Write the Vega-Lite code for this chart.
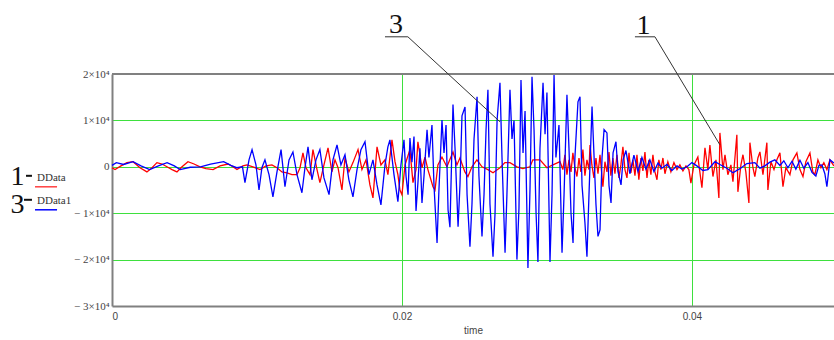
{
  "$schema": "https://vega.github.io/schema/vega-lite/v6.json",
  "autosize": {"type": "none"},
  "padding": {"left": 112, "top": 74, "right": 0, "bottom": 34},
  "width": 722,
  "height": 232,
  "background": "white",
  "config": {"view": {"stroke": null}},
  "datasets": {
    "ddata": [
      {"time":0,"value":-200},{"time":0.00021,"value":-600},{"time":0.00062,"value":200},{"time":0.00103,"value":900},{"time":0.00145,"value":1100},{"time":0.00193,"value":-200},{"time":0.00241,"value":-1100},{"time":0.00276,"value":-200},{"time":0.0031,"value":900},{"time":0.00345,"value":600},{"time":0.00379,"value":0},{"time":0.00414,"value":-600},{"time":0.00448,"value":-1100},{"time":0.00483,"value":0},{"time":0.00524,"value":1100},{"time":0.00566,"value":600},{"time":0.00607,"value":0},{"time":0.00648,"value":-400},{"time":0.00697,"value":-600},{"time":0.00745,"value":200},{"time":0.008,"value":600},{"time":0.00834,"value":0},{"time":0.00862,"value":-600},{"time":0.00903,"value":200},
      {"time":0.00931,"value":400},{"time":0.00972,"value":0},{"time":0.01021,"value":-600},{"time":0.01062,"value":200},{"time":0.01103,"value":400},{"time":0.01138,"value":-200},{"time":0.01172,"value":-1100},{"time":0.01207,"value":-1300},{"time":0.01241,"value":-1700},{"time":0.01276,"value":-1700},{"time":0.01297,"value":-200},{"time":0.01317,"value":3000},{"time":0.01338,"value":-200},{"time":0.01366,"value":-1700},{"time":0.01386,"value":3700},{"time":0.01414,"value":-600},{"time":0.01434,"value":-3400},{"time":0.01462,"value":400},{"time":0.0149,"value":4100},{"time":0.01517,"value":-1100},{"time":0.01538,"value":1500},{"time":0.01559,"value":-200},{"time":0.01586,"value":-5000},{"time":0.01607,"value":1900},{"time":0.01634,"value":-1100},{"time":0.01662,"value":900},{"time":0.01697,"value":3700},{"time":0.01724,"value":-600},{"time":0.01752,"value":1500},{"time":0.01779,"value":-3900},{"time":0.018,"value":-6700},{"time":0.01828,"value":4300},{"time":0.01855,"value":400},{"time":0.01883,"value":1500},{"time":0.01903,"value":-1700},{"time":0.01931,"value":5800},{"time":0.01952,"value":1100},{"time":0.01972,"value":-1700},{"time":0.01986,"value":-5000},{"time":0.02,"value":-6000},
      {"time":0.02021,"value":400},{"time":0.02055,"value":3700},{"time":0.02076,"value":-3400},{"time":0.02097,"value":-600},{"time":0.0211,"value":5400},{"time":0.02138,"value":-200},{"time":0.02159,"value":2100},{"time":0.02179,"value":-600},{"time":0.02214,"value":-4300},{"time":0.02228,"value":-5000},{"time":0.02248,"value":400},{"time":0.02276,"value":2100},{"time":0.0231,"value":0},{"time":0.02352,"value":3200},{"time":0.02379,"value":400},{"time":0.024,"value":1900},{"time":0.02434,"value":-1100},{"time":0.02455,"value":-2100},{"time":0.02483,"value":0},{"time":0.02517,"value":1500},{"time":0.02552,"value":0},{"time":0.02593,"value":-600},{"time":0.02628,"value":-1300},{"time":0.02676,"value":-200},{"time":0.0271,"value":900},{"time":0.02745,"value":900},{"time":0.02793,"value":0},{"time":0.02834,"value":-400},{"time":0.02883,"value":0},{"time":0.02903,"value":1500},{"time":0.02952,"value":1500},{"time":0.03,"value":-200},{"time":0.03041,"value":400},{"time":0.0309,"value":1100},
      {"time":0.0311,"value":-600},{"time":0.03124,"value":2600},{"time":0.03138,"value":-1700},{"time":0.03152,"value":1500},{"time":0.03166,"value":-1100},{"time":0.03179,"value":3000},{"time":0.03193,"value":-200},{"time":0.03207,"value":-2100},{"time":0.03221,"value":1900},{"time":0.03234,"value":-1100},{"time":0.03248,"value":3700},{"time":0.03262,"value":-1900},{"time":0.03276,"value":1500},{"time":0.0329,"value":-600},{"time":0.03297,"value":4700},{"time":0.0331,"value":400},{"time":0.03324,"value":-2400},{"time":0.03338,"value":1900},{"time":0.03352,"value":-1500},{"time":0.03366,"value":2600},{"time":0.03386,"value":-4300},{"time":0.034,"value":1100},{"time":0.03414,"value":-1100},{"time":0.03428,"value":3200},{"time":0.03441,"value":-1900},{"time":0.03455,"value":1900},{"time":0.03469,"value":-1500},{"time":0.03483,"value":2600},{"time":0.03497,"value":-2400},{"time":0.0351,"value":400},{"time":0.03524,"value":4300},{"time":0.03538,"value":-600},{"time":0.03552,"value":-2400},{"time":0.03566,"value":3000},{"time":0.03579,"value":-1300},{"time":0.03593,"value":1500},{"time":0.03607,"value":-1900},{"time":0.03621,"value":2600},{"time":0.03634,"value":-2800},{"time":0.03648,"value":1900},{"time":0.03662,"value":-900},{"time":0.03676,"value":3200},{"time":0.0369,"value":-2400},{"time":0.03703,"value":1500},{"time":0.03717,"value":-1700},{"time":0.03731,"value":2600},{"time":0.03745,"value":-1100},{"time":0.03759,"value":-2800},{"time":0.03772,"value":1500},{"time":0.03786,"value":-600},{"time":0.038,"value":1900},{"time":0.03814,"value":-1500},{"time":0.03834,"value":1100},{"time":0.03855,"value":-1100},{"time":0.03876,"value":900},{"time":0.03897,"value":-600},{"time":0.03917,"value":400},{"time":0.03938,"value":-900},{"time":0.03959,"value":200},{"time":0.03979,"value":-600},{"time":0.03993,"value":-3500},
      {"time":0.04014,"value":400},{"time":0.04041,"value":2100},{"time":0.04069,"value":-4500},{"time":0.0409,"value":4100},{"time":0.0411,"value":-600},{"time":0.04124,"value":4700},{"time":0.04145,"value":-2100},{"time":0.04166,"value":1500},{"time":0.04186,"value":-6700},{"time":0.04193,"value":7300},{"time":0.04214,"value":-600},{"time":0.04228,"value":2600},{"time":0.04248,"value":-1700},{"time":0.04269,"value":400},{"time":0.04283,"value":-3200},{"time":0.0431,"value":6900},{"time":0.04317,"value":-5400},{"time":0.04338,"value":400},{"time":0.04352,"value":2600},{"time":0.04372,"value":-1100},{"time":0.04393,"value":-7800},{"time":0.044,"value":5200},{"time":0.04421,"value":-200},{"time":0.04434,"value":-2100},{"time":0.04455,"value":1900},{"time":0.04469,"value":3200},{"time":0.0449,"value":-1700},{"time":0.04517,"value":5200},{"time":0.04524,"value":-5000},{"time":0.04545,"value":1100},{"time":0.04566,"value":-600},{"time":0.04586,"value":1500},{"time":0.04607,"value":3000},{"time":0.04628,"value":-4300},{"time":0.04648,"value":-200},{"time":0.04676,"value":-1700},{"time":0.04697,"value":1500},{"time":0.04724,"value":3000},{"time":0.04745,"value":-600},{"time":0.04766,"value":-2100},{"time":0.04786,"value":1100},{"time":0.04814,"value":3000},{"time":0.04834,"value":-1100},{"time":0.04848,"value":-1700},{"time":0.04869,"value":1500},{"time":0.0489,"value":-200},{"time":0.0491,"value":900},{"time":0.04931,"value":-600},{"time":0.04952,"value":1500},{"time":0.04979,"value":200}
    ],
    "ddata1": [
      {"time":0,"value":300},{"time":0.0003,"value":900},{"time":0.0008,"value":500},{"time":0.00145,"value":1100},{"time":0.002,"value":200},{"time":0.0026,"value":-600},{"time":0.0032,"value":200},{"time":0.0038,"value":900},{"time":0.0043,"value":200},{"time":0.0047,"value":-600},{"time":0.0054,"value":-100},{"time":0.0061,"value":0},{"time":0.0068,"value":600},{"time":0.0077,"value":1100},{"time":0.0082,"value":300},{"time":0.0086,"value":-200},{"time":0.009,"value":0},
      {"time":0.00917,"value":-3400},{"time":0.00945,"value":1500},{"time":0.00966,"value":3700},{"time":0.00993,"value":400},{"time":0.01014,"value":-5000},{"time":0.01034,"value":-200},{"time":0.01055,"value":1500},{"time":0.01083,"value":-1700},{"time":0.0111,"value":-6500},{"time":0.01138,"value":-1100},{"time":0.01166,"value":3700},{"time":0.01193,"value":-4300},{"time":0.01221,"value":1500},{"time":0.01248,"value":3200},{"time":0.01276,"value":-1700},{"time":0.0131,"value":-5600},{"time":0.01331,"value":-200},{"time":0.01352,"value":4300},{"time":0.01379,"value":-2800},{"time":0.01407,"value":1500},{"time":0.01434,"value":3700},{"time":0.01462,"value":-2400},{"time":0.01497,"value":-6000},{"time":0.01524,"value":1500},{"time":0.01552,"value":4700},{"time":0.01579,"value":400},{"time":0.01607,"value":2600},{"time":0.01634,"value":-2800},{"time":0.01662,"value":-6500},{"time":0.0169,"value":-600},{"time":0.01717,"value":3700},{"time":0.01745,"value":5400},{"time":0.01772,"value":-1700},{"time":0.018,"value":1500},{"time":0.01828,"value":-3900},{"time":0.01855,"value":-8200},{"time":0.01883,"value":400},{"time":0.01903,"value":4300},{"time":0.01917,"value":5800},{"time":0.01945,"value":-1700},{"time":0.01972,"value":-7500},{"time":0.01993,"value":400},
      {"time":0.02014,"value":5800},{"time":0.02028,"value":-2000},{"time":0.02042,"value":-6000},{"time":0.02055,"value":6200},{"time":0.02069,"value":1000},{"time":0.02083,"value":6500},{"time":0.02097,"value":-9500},{"time":0.02111,"value":-3000},{"time":0.02124,"value":4000},{"time":0.02138,"value":-7800},{"time":0.02152,"value":-2000},{"time":0.02173,"value":8000},{"time":0.02186,"value":2000},{"time":0.02207,"value":9000},{"time":0.02221,"value":-4000},{"time":0.02242,"value":-16400},{"time":0.02255,"value":-5000},{"time":0.02276,"value":10100},{"time":0.0229,"value":3000},{"time":0.02304,"value":9000},{"time":0.02318,"value":-9300},{"time":0.02331,"value":-13000},{"time":0.02352,"value":13400},{"time":0.02366,"value":4000},{"time":0.02387,"value":-12900},{"time":0.024,"value":-4000},{"time":0.02414,"value":11000},{"time":0.02435,"value":12900},{"time":0.02449,"value":-6000},{"time":0.02469,"value":-17200},{"time":0.02483,"value":-8000},{"time":0.02497,"value":6000},{"time":0.02518,"value":15100},{"time":0.02531,"value":-2000},{"time":0.02552,"value":-15000},{"time":0.02566,"value":-6000},{"time":0.0258,"value":8000},{"time":0.02593,"value":16600},{"time":0.02607,"value":-8000},{"time":0.02628,"value":-19400},{"time":0.02642,"value":-10000},{"time":0.02656,"value":10000},{"time":0.02676,"value":18100},{"time":0.0269,"value":2000},{"time":0.02711,"value":-18500},{"time":0.02724,"value":-6000},{"time":0.02745,"value":16600},{"time":0.02759,"value":6000},{"time":0.02773,"value":10000},{"time":0.02793,"value":-20000},{"time":0.02807,"value":-9000},{"time":0.02821,"value":18700},{"time":0.02835,"value":3000},{"time":0.02849,"value":12000},{"time":0.02869,"value":-21800},{"time":0.02883,"value":-5000},{"time":0.02897,"value":19400},{"time":0.02911,"value":8000},{"time":0.02925,"value":-10000},{"time":0.02938,"value":-20500},{"time":0.02952,"value":4000},{"time":0.02973,"value":18100},{"time":0.02987,"value":7000},{"time":0.03,"value":16000},{"time":0.03021,"value":-20500},{"time":0.03035,"value":-6000},{"time":0.03049,"value":19800},{"time":0.03062,"value":2000},{"time":0.03083,"value":9000},{"time":0.03104,"value":-18500},{"time":0.03118,"value":-6000},{"time":0.03138,"value":15500},{"time":0.03152,"value":4000},{"time":0.03166,"value":-10000},{"time":0.0318,"value":-16400},{"time":0.03193,"value":2000},{"time":0.03214,"value":14000},{"time":0.03228,"value":15100},{"time":0.03242,"value":-4000},{"time":0.03262,"value":-12000},{"time":0.03276,"value":-19400},{"time":0.0329,"value":-6000},{"time":0.03311,"value":13000},{"time":0.03324,"value":3000},{"time":0.03338,"value":-8000},{"time":0.03352,"value":-15000},{"time":0.03366,"value":-13600},{"time":0.0338,"value":2000},{"time":0.03394,"value":8000},{"time":0.03414,"value":7300},{"time":0.03428,"value":-4000},{"time":0.03442,"value":-7800},{"time":0.03456,"value":3000},{"time":0.03476,"value":5400},{"time":0.0349,"value":-1000},{"time":0.03511,"value":-3900},{"time":0.03525,"value":1500},{"time":0.03545,"value":3500},
      {"time":0.03572,"value":-1500},{"time":0.036,"value":2500},{"time":0.03628,"value":-1000},{"time":0.03655,"value":2000},{"time":0.03683,"value":-500},{"time":0.0371,"value":1500},{"time":0.03738,"value":-1000},{"time":0.03766,"value":800},{"time":0.03793,"value":-300},{"time":0.03828,"value":500},{"time":0.03862,"value":-800},{"time":0.03897,"value":200},{"time":0.03931,"value":-500},{"time":0.03966,"value":0},
      {"time":0.04,"value":900},{"time":0.04034,"value":200},{"time":0.04076,"value":-800},{"time":0.0411,"value":-600},{"time":0.04159,"value":1100},{"time":0.04193,"value":500},{"time":0.04241,"value":-300},{"time":0.04283,"value":-1300},{"time":0.04331,"value":-400},{"time":0.04379,"value":700},{"time":0.04434,"value":900},{"time":0.04469,"value":-300},{"time":0.04503,"value":200},{"time":0.04538,"value":1000},{"time":0.04572,"value":1500},{"time":0.04607,"value":300},{"time":0.04634,"value":1300},{"time":0.04662,"value":-200},{"time":0.0469,"value":1200},{"time":0.04717,"value":-500},{"time":0.04745,"value":1400},{"time":0.04772,"value":-300},{"time":0.048,"value":900},{"time":0.04828,"value":-1200},{"time":0.04855,"value":-2000},{"time":0.04876,"value":300},{"time":0.04897,"value":400},{"time":0.04917,"value":-1500},{"time":0.04931,"value":-4300},{"time":0.04952,"value":1500},{"time":0.04979,"value":800}
    ]
  },
  "encoding": {
    "x": {
      "field": "time", "type": "quantitative",
      "scale": {"domain": [0, 0.0498], "nice": false, "zero": false},
      "axis": {
        "values": [0, 0.02, 0.04],
        "labelExpr": "datum.value == 0 ? '0' : format(datum.value, '.2f')",
        "grid": true, "gridColor": "#3ee03e", "gridWidth": 1,
        "gridOpacity": {"condition": {"test": "datum.value == 0", "value": 0}, "value": 1},
        "ticks": false,
        "domainColor": "#808080", "domainWidth": 2,
        "labelFont": "Liberation Sans", "labelFontSize": 10, "labelColor": "#444444", "labelPadding": 5,
        "title": "time", "titleFont": "Liberation Sans", "titleFontSize": 10, "titleFontWeight": "normal", "titleColor": "#444444", "titlePadding": 4
      }
    },
    "y": {
      "field": "value", "type": "quantitative",
      "scale": {"domain": [-30000, 20000], "nice": false, "zero": false},
      "axis": {
        "values": [-30000, -20000, -10000, 0, 10000, 20000],
        "labelExpr": "datum.value == 0 ? '0' : (datum.value < 0 ? '\u2212 ' : '') + abs(datum.value) / 10000 + '\u00d710\u2074'",
        "grid": true, "gridColor": "#3ee03e", "gridWidth": 1,
        "gridOpacity": {"condition": {"test": "datum.value == -30000 || datum.value == 20000", "value": 0}, "value": 1},
        "ticks": false,
        "domainColor": "#808080", "domainWidth": 2,
        "labelFont": "Liberation Serif", "labelFontSize": 11, "labelColor": "#444444", "labelPadding": 3,
        "title": null
      }
    }
  },
  "layer": [
    {
      "data": {"name": "ddata"},
      "mark": {"type": "line", "color": "#ff0000", "strokeWidth": 1.3, "interpolate": "linear"}
    },
    {
      "data": {"name": "ddata1"},
      "mark": {"type": "line", "color": "#0000ff", "strokeWidth": 1.3, "interpolate": "linear"}
    },
    {
      "data": {"values": [{"time": 0, "time2": 0.0498, "value": 20000, "value2": 20000}]},
      "mark": {"type": "rule", "color": "#808080", "strokeWidth": 2},
      "encoding": {"x2": {"field": "time2"}, "y2": {"field": "value2"}}
    },
    {
      "data": {"values": [
        {"time": 0.01883, "value": 28015, "time2": 0.02041, "value2": 28015},
        {"time": 0.02041, "value": 28015, "time2": 0.02676, "value2": 9698},
        {"time": 0.03607, "value": 28015, "time2": 0.03745, "value2": 28015},
        {"time": 0.03745, "value": 28015, "time2": 0.04193, "value2": 4741}
      ]},
      "mark": {"type": "rule", "color": "#333333", "strokeWidth": 1},
      "encoding": {"x2": {"field": "time2"}, "y2": {"field": "value2"}}
    },
    {
      "data": {"values": [
        {"time": -0.00593, "value": -1940, "time2": -0.00552, "value2": -1940},
        {"time": -0.00607, "value": -7112, "time2": -0.00552, "value2": -7112}
      ]},
      "mark": {"type": "rule", "color": "#111111", "strokeWidth": 2},
      "encoding": {"x2": {"field": "time2"}, "y2": {"field": "value2"}}
    },
    {
      "data": {"values": [
        {"series": "DData", "time": -0.00531, "value": -4310, "time2": -0.00379, "value2": -4310},
        {"series": "DData1", "time": -0.00531, "value": -9267, "time2": -0.00379, "value2": -9267}
      ]},
      "mark": {"type": "rule", "strokeWidth": 1.5},
      "encoding": {
        "x2": {"field": "time2"}, "y2": {"field": "value2"},
        "color": {"field": "series", "type": "nominal", "scale": {"domain": ["DData", "DData1"], "range": ["#ff4040", "#0000ff"]}, "legend": null}
      }
    },
    {
      "data": {"values": [
        {"label": "3", "time": 0.01959, "value": 28900},
        {"label": "1", "time": 0.03666, "value": 28600},
        {"label": "1", "time": -0.00652, "value": -3879},
        {"label": "3", "time": -0.00652, "value": -9913}
      ]},
      "mark": {"type": "text", "font": "Liberation Serif", "fontSize": 28, "align": "center", "baseline": "alphabetic", "color": "#111111"},
      "encoding": {"text": {"field": "label"}}
    },
    {
      "data": {"values": [
        {"label": "DData", "time": -0.00517, "value": -3017},
        {"label": "DData1", "time": -0.00517, "value": -7974}
      ]},
      "mark": {"type": "text", "font": "Liberation Serif", "fontSize": 11, "align": "left", "baseline": "alphabetic", "color": "#333333"},
      "encoding": {"text": {"field": "label"}}
    }
  ]
}
